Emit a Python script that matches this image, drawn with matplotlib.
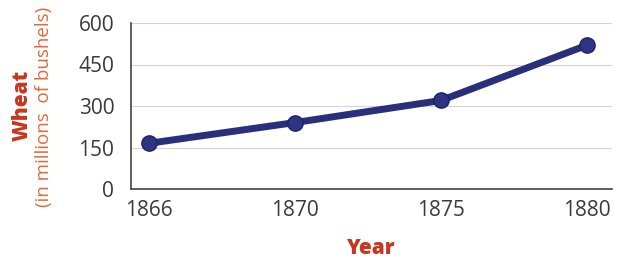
import matplotlib
matplotlib.use("Agg")
import matplotlib.pyplot as plt

years = ["1866", "1870", "1875", "1880"]
wheat = [165, 240, 320, 520]
yticks = [0, 150, 300, 450, 600]

plt.rcParams['font.family'] = ['Open Sans', 'DejaVu Sans']

fig = plt.figure(figsize=(6.34, 2.64), dpi=100)
ax = fig.add_axes([131 / 634, 1 - 189 / 264, (612 - 131) / 634, (189 - 23) / 264])

x = list(range(len(years)))
ax.plot(x, wheat, color="#2a2f7c", linewidth=5, marker="o", markersize=11,
        markerfacecolor="#2e3383", markeredgecolor="#1e2266", solid_capstyle="round")

ax.set_xlim(-0.12, 3.17)
ax.set_ylim(0, 600)
ax.set_yticks(yticks)
ax.set_xticks(x)
ax.set_xticklabels(years)
ax.tick_params(axis="both", length=0, labelsize=15, labelcolor="#3a3a3a")
ax.tick_params(axis="y", pad=12)
ax.tick_params(axis="x", pad=8)
ax.grid(axis="y", color="#d4d4d4", linewidth=0.8)
ax.set_axisbelow(True)
for s in ["top", "right"]:
    ax.spines[s].set_visible(False)
for s in ["left", "bottom"]:
    ax.spines[s].set_color("#444444")
    ax.spines[s].set_linewidth(1.2)

fig.text(22 / 634, 1 - 105 / 264, "Wheat", rotation=90, ha="center", va="center",
         fontsize=15, fontweight="heavy", color="#c8361f")
fig.text(44 / 634, 1 - 107 / 264, "(in millions  of bushels)", rotation=90, ha="center",
         va="center", fontsize=13.5, color="#e2673b")
fig.text(370 / 634, 1 - 249 / 264, "Year", ha="center", va="center",
         fontsize=15, fontweight="heavy", color="#c8361f")

fig.savefig("out.png", dpi=100)
